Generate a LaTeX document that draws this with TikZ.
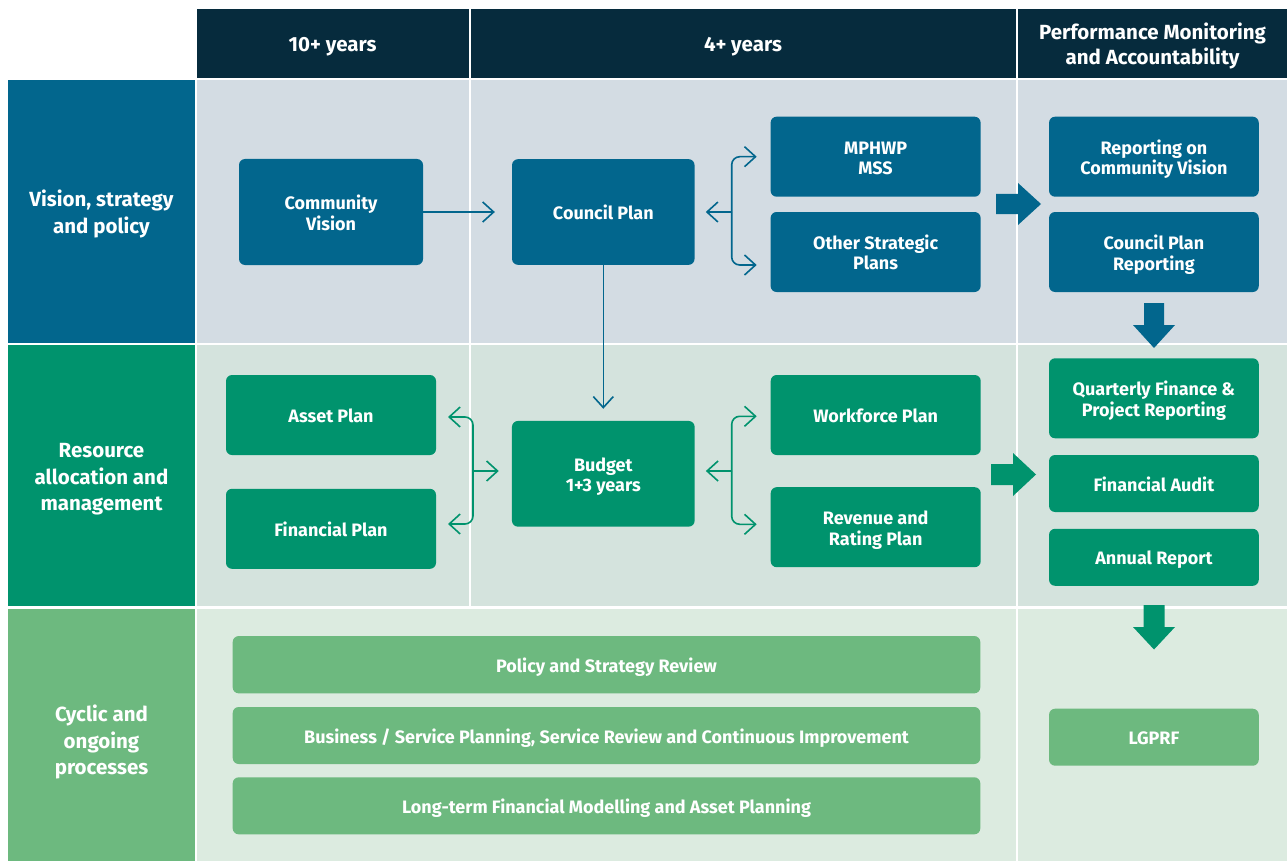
\documentclass[tikz,border=0pt]{standalone}
\usepackage{fontspec}
\setmainfont{Fira Sans}
\usetikzlibrary{arrows.meta}
\definecolor{navy}{HTML}{062B3D}
\definecolor{cblue}{HTML}{02668D}
\definecolor{cgreen}{HTML}{00936D}
\definecolor{clgreen}{HTML}{6DB97F}
\definecolor{bgone}{HTML}{D3DCE3}
\definecolor{bgtwo}{HTML}{D4E3DD}
\definecolor{bgthree}{HTML}{DCEBE0}
\newcommand{\btxt}[1]{\raisebox{-3.5pt}[\height][\depth]{\begin{tabular}{@{}c@{}}#1\end{tabular}}}
\newcommand{\ltxt}[1]{\begin{tabular}{@{}c@{}}#1\end{tabular}}
\tikzset{
  boxbase/.style={rounded corners=6pt, text=white, inner sep=0pt,
    font=\bfseries\fontsize{18}{20}\selectfont},
  bbox/.style={boxbase, fill=cblue},
  gbox/.style={boxbase, fill=cgreen},
  lbox/.style={boxbase, fill=clgreen},
  rowlabel/.style={text=white, inner sep=0pt, font=\bfseries\fontsize{20.5}{26.5}\selectfont},
  headlabel/.style={text=white, inner sep=0pt, font=\bfseries\fontsize{20.5}{25}\selectfont},
  barr/.style={draw=cblue, line width=1.6pt, -{Straight Barb[length=11pt,width=20pt]}},
  garr/.style={draw=cgreen, line width=1.6pt, -{Straight Barb[length=11pt,width=20pt]}},
}
\begin{document}
\begin{tikzpicture}[x=1pt,y=-1pt]
\useasboundingbox[fill=white] (0,0) rectangle (1287,861);
% header
\fill[navy] (197,9) rectangle (468.5,78);
\fill[navy] (470.5,9) rectangle (1015.7,78);
\fill[navy] (1018,9) rectangle (1287,78);
% row labels
\fill[cblue] (8,80) rectangle (195,342.5);
\fill[cgreen] (8,345) rectangle (195,605.7);
\fill[clgreen] (8,608.7) rectangle (195,861);
% cells
\fill[bgone] (197,80) rectangle (468.5,342.5);
\fill[bgone] (470.5,80) rectangle (1015.7,342.5);
\fill[bgone] (1018,80) rectangle (1287,342.5);
\fill[bgtwo] (197,345) rectangle (468.5,605.7);
\fill[bgtwo] (470.5,345) rectangle (1015.7,605.7);
\fill[bgtwo] (1018,345) rectangle (1287,605.7);
\fill[bgthree] (197,608.7) rectangle (1015.7,861);
\fill[bgthree] (1018,608.7) rectangle (1287,861);
% header texts
\node[headlabel] (h1) at (332.5,47) {\ltxt{10+ years}};
\node[headlabel] (h2) at (743,47) {\ltxt{4+ years}};
\node[headlabel] (h3) at (1152.5,47.5) {\ltxt{Performance Monitoring\\and Accountability}};
% row label texts
\node[rowlabel] (r1) at (101.5,214.5) {\ltxt{Vision, strategy\\and policy}};
\node[rowlabel] (r2) at (101.5,478.7) {\ltxt{Resource\\allocation and\\management}};
\node[rowlabel] (r3) at (101.5,742.7) {\ltxt{Cyclic and\\ongoing\\processes}};
% row 1 boxes
\node[bbox, minimum width=184pt, minimum height=106pt] (cv) at (331,212) {\btxt{Community\\Vision}};
\node[bbox, minimum width=182.5pt, minimum height=105.7pt] (cp) at (603.3,212) {\btxt{Council Plan}};
\node[bbox, minimum width=210pt, minimum height=80pt] (mp) at (875.6,156.7) {\btxt{MPHWP\\MSS}};
\node[bbox, minimum width=210pt, minimum height=80pt] (os) at (875.6,252) {\btxt{Other Strategic\\Plans}};
\node[bbox, minimum width=209.7pt, minimum height=80pt] (rcv) at (1153.9,156.7) {\btxt{Reporting on\\Community Vision}};
\node[bbox, minimum width=209.7pt, minimum height=80pt] (cpr) at (1153.9,252) {\btxt{Council Plan\\Reporting}};
% row 2 boxes
\node[gbox, minimum width=210pt, minimum height=80pt] (ap) at (331,415) {\btxt{Asset Plan}};
\node[gbox, minimum width=210pt, minimum height=80pt] (fp) at (331,528.8) {\btxt{Financial Plan}};
\node[gbox, minimum width=182.7pt, minimum height=105.7pt] (bu) at (603.3,473.8) {\btxt{Budget\\1+3 years}};
\node[gbox, minimum width=210pt, minimum height=80pt] (wf) at (875.7,415) {\btxt{Workforce Plan}};
\node[gbox, minimum width=210pt, minimum height=80pt] (rr) at (875.7,527.2) {\btxt{Revenue and\\Rating Plan}};
\node[gbox, minimum width=209.7pt, minimum height=80pt] (qf) at (1153.9,398.3) {\btxt{Quarterly Finance \&\\Project Reporting}};
\node[gbox, minimum width=209.7pt, minimum height=57pt] (fa) at (1153.9,483.5) {\btxt{Financial Audit}};
\node[gbox, minimum width=209.7pt, minimum height=57pt] (ar) at (1153.9,557.3) {\btxt{Annual Report}};
% row 3 boxes
\node[lbox, minimum width=747.6pt, minimum height=57.3pt] (p1) at (606.5,664.7) {\btxt{Policy and Strategy Review}};
\node[lbox, minimum width=747.6pt, minimum height=57pt] (p2) at (606.5,735.5) {\btxt{Business / Service Planning, Service Review and Continuous Improvement}};
\node[lbox, minimum width=747.6pt, minimum height=57pt] (p3) at (606.5,805.8) {\btxt{Long-term Financial Modelling and Asset Planning}};
\node[lbox, minimum width=209.7pt, minimum height=57pt] (lg) at (1153.9,737.2) {\btxt{LGPRF}};
% connectors row 1
\draw[barr, shorten >=17pt] (cv.east) -- (cp.west);
\draw[barr, shorten >=12pt] (cp.south) -- (bu.north);
\coordinate (j1) at (731.7,212);
\coordinate (t1) at (756.7,156.7);
\coordinate (t2) at (756.7,265);
\draw[barr, shorten >=11pt] (j1) -- (cp.east);
\draw[barr, rounded corners=8pt] (j1) |- (t1);
\draw[barr, rounded corners=8pt] (j1) |- (t2);
% connectors row 2
\coordinate (j2) at (731.7,471);
\coordinate (t3) at (756.7,416.3);
\coordinate (t4) at (756.7,524.3);
\draw[garr, shorten >=11pt] (j2) -- (bu.east |- j2);
\draw[garr, rounded corners=8pt] (j2) |- (t3);
\draw[garr, rounded corners=8pt] (j2) |- (t4);
\coordinate (j3) at (473,471);
\coordinate (t5) at (448,417);
\coordinate (t6) at (448,524);
\draw[garr, shorten >=13pt] (j3) -- (bu.west |- j3);
\draw[garr, rounded corners=8pt] (j3) |- (t5);
\draw[garr, rounded corners=8pt] (j3) |- (t6);
% big arrows
\fill[cblue] (996,194) -- (1018,194) -- (1018,183) -- (1041,204) -- (1018,225) -- (1018,214) -- (996,214) -- cycle;
\fill[cblue] (1144,303) -- (1164,303) -- (1164,325) -- (1175,325) -- (1154,348) -- (1133,325) -- (1144,325) -- cycle;
\fill[cgreen] (991,464) -- (1013,464) -- (1013,453) -- (1036,474.5) -- (1013,496) -- (1013,485) -- (991,485) -- cycle;
\fill[cgreen] (1143.5,605) -- (1164.5,605) -- (1164.5,627) -- (1175,627) -- (1154,649.5) -- (1133,627) -- (1143.5,627) -- cycle;
\end{tikzpicture}
\end{document}
